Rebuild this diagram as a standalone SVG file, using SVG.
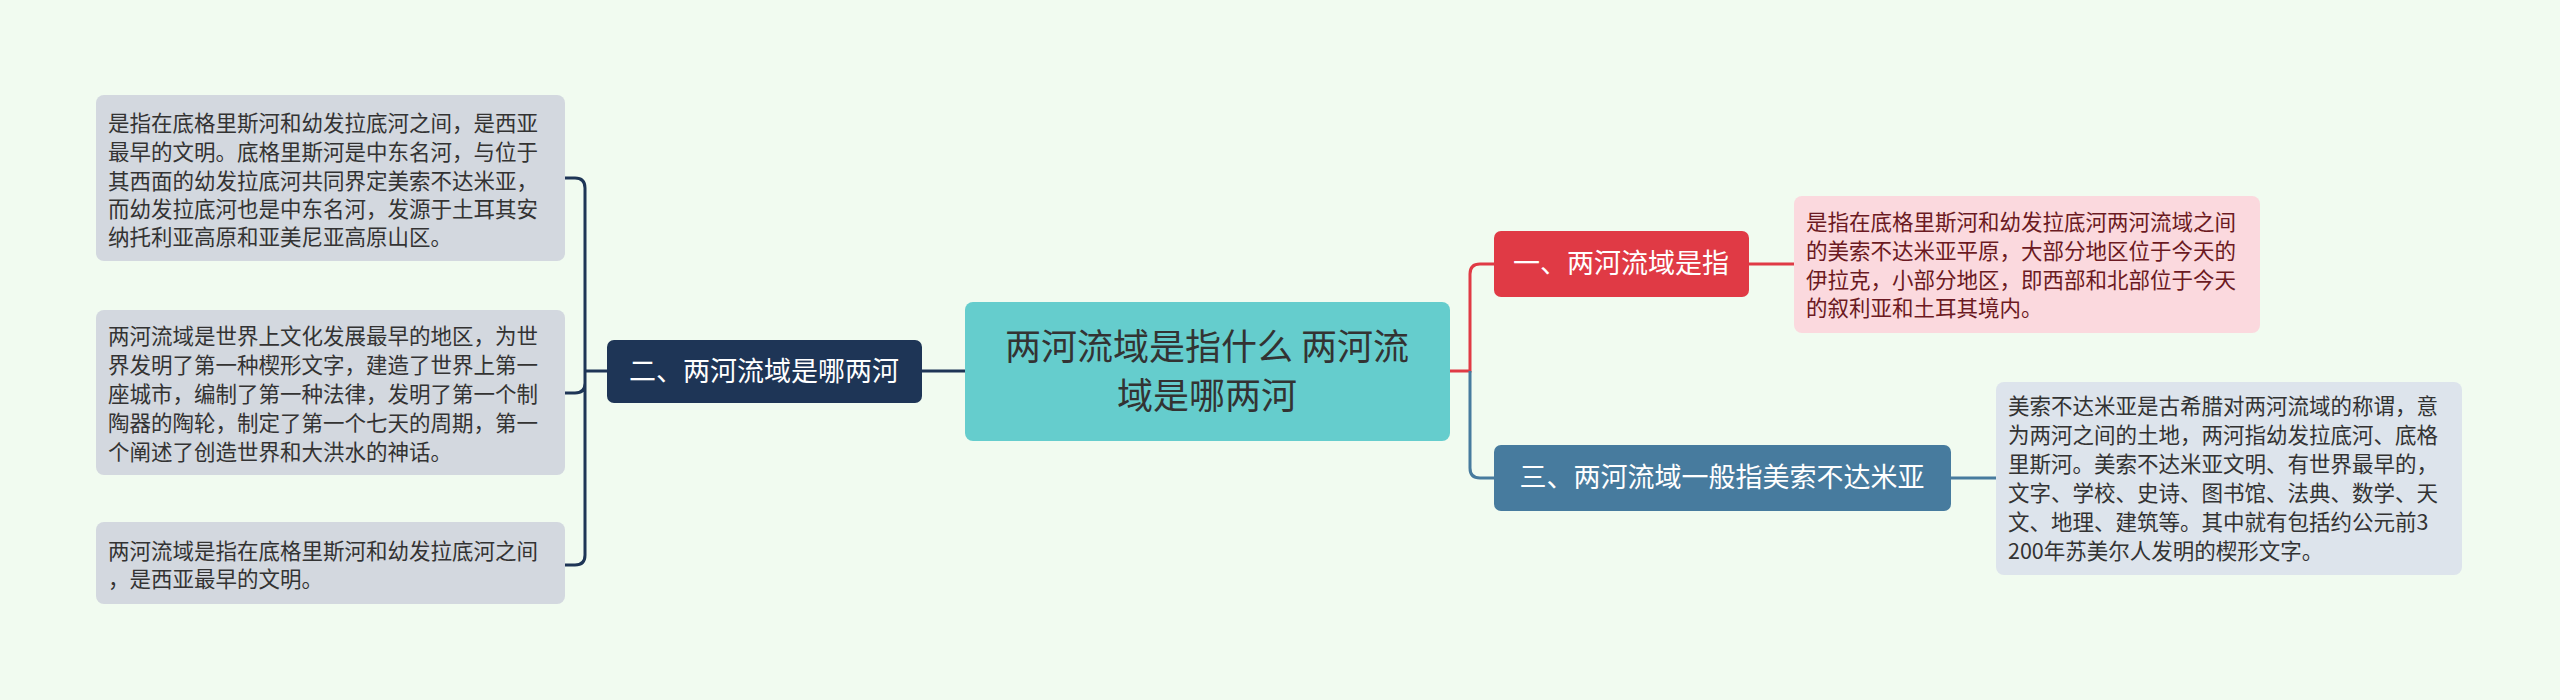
<svg xmlns="http://www.w3.org/2000/svg" width="2560" height="700" viewBox="0 0 2560 700">
<style>
text{font-family:"Noto Sans CJK SC","Liberation Sans",sans-serif}
.leaf{font-size:21.5px;fill:#333}
.node{font-size:27px;fill:#fff}
.c{fill:none;stroke-width:3}
</style>
<rect width="2560" height="700" fill="#f1fbf0"/>
<g id="connectors">
<path class="c" stroke="#1e3556" d="M965 371H922"/>
<path class="c" stroke="#1e3556" d="M607 371H585M565 178H575Q585 178 585 188V555Q585 565 575 565H565M565 393H575Q585 393 585 383V371"/>
<path class="c" stroke="#e03a45" d="M1450 371H1470V274Q1470 264 1480 264H1494M1749 264H1794"/>
<path class="c" stroke="#477b9e" d="M1470 371V468Q1470 478 1480 478H1494M1951 478H1996"/>
</g>
<g id="center">
<rect x="965" y="302" width="485" height="139" rx="8" fill="#65cdcd"/>
<text x="1207" y="360" font-size="36" fill="#333" text-anchor="middle">两河流域是指什么 两河流</text>
<text x="1207" y="409" font-size="36" fill="#333" text-anchor="middle">域是哪两河</text>
</g>
<g id="node-left">
<rect x="607" y="340" width="315" height="63" rx="7" fill="#1e3556"/>
<text class="node" x="764" y="381" text-anchor="middle">二、两河流域是哪两河</text>
</g>
<g id="leaf-l1">
<rect x="96" y="95" width="469" height="166" rx="8" fill="#d3d8df"/>
<text class="leaf" x="108" y="131">是指在底格里斯河和幼发拉底河之间，是西亚</text>
<text class="leaf" x="108" y="160">最早的文明。底格里斯河是中东名河，与位于</text>
<text class="leaf" x="108" y="189">其西面的幼发拉底河共同界定美索不达米亚，</text>
<text class="leaf" x="108" y="217">而幼发拉底河也是中东名河，发源于土耳其安</text>
<text class="leaf" x="108" y="245">纳托利亚高原和亚美尼亚高原山区。</text>
</g>
<g id="leaf-l2">
<rect x="96" y="310" width="469" height="165" rx="8" fill="#d3d8df"/>
<text class="leaf" x="108" y="344">两河流域是世界上文化发展最早的地区，为世</text>
<text class="leaf" x="108" y="373">界发明了第一种楔形文字，建造了世界上第一</text>
<text class="leaf" x="108" y="402">座城市，编制了第一种法律，发明了第一个制</text>
<text class="leaf" x="108" y="431">陶器的陶轮，制定了第一个七天的周期，第一</text>
<text class="leaf" x="108" y="460">个阐述了创造世界和大洪水的神话。</text>
</g>
<g id="leaf-l3">
<rect x="96" y="522" width="469" height="82" rx="8" fill="#d3d8df"/>
<text class="leaf" x="108" y="559">两河流域是指在底格里斯河和幼发拉底河之间</text>
<text class="leaf" x="108" y="587">，是西亚最早的文明。</text>
</g>
<g id="node-r1">
<rect x="1494" y="231" width="255" height="66" rx="7" fill="#e03a45"/>
<text class="node" x="1621" y="273" text-anchor="middle">一、两河流域是指</text>
</g>
<g id="leaf-r1">
<rect x="1794" y="196" width="466" height="137" rx="8" fill="#fbd9de"/>
<text class="leaf" x="1806" y="230" fill="#6b1a22" style="fill:#6b1a22">是指在底格里斯河和幼发拉底河两河流域之间</text>
<text class="leaf" x="1806" y="259" style="fill:#6b1a22">的美索不达米亚平原，大部分地区位于今天的</text>
<text class="leaf" x="1806" y="288" style="fill:#6b1a22">伊拉克，小部分地区，即西部和北部位于今天</text>
<text class="leaf" x="1806" y="316" style="fill:#6b1a22">的叙利亚和土耳其境内。</text>
</g>
<g id="node-r3">
<rect x="1494" y="445" width="457" height="66" rx="7" fill="#477b9e"/>
<text class="node" x="1722" y="487" text-anchor="middle">三、两河流域一般指美索不达米亚</text>
</g>
<g id="leaf-r3">
<rect x="1996" y="382" width="466" height="193" rx="8" fill="#dde4ec"/>
<text class="leaf" x="2008" y="414">美索不达米亚是古希腊对两河流域的称谓，意</text>
<text class="leaf" x="2008" y="443">为两河之间的土地，两河指幼发拉底河、底格</text>
<text class="leaf" x="2008" y="472">里斯河。美索不达米亚文明、有世界最早的，</text>
<text class="leaf" x="2008" y="501">文字、学校、史诗、图书馆、法典、数学、天</text>
<text class="leaf" x="2008" y="530">文、地理、建筑等。其中就有包括约公元前3</text>
<text class="leaf" x="2008" y="559">200年苏美尔人发明的楔形文字。</text>
</g>
</svg>
